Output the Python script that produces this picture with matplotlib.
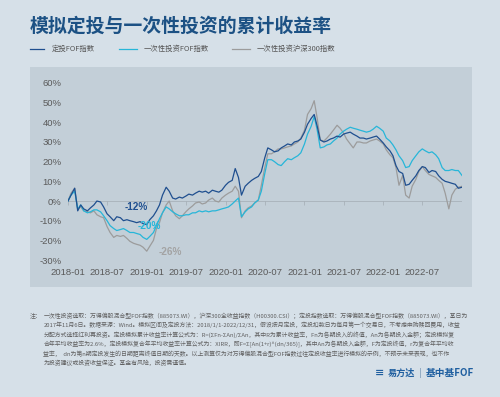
import matplotlib
matplotlib.use('Agg')
import matplotlib.pyplot as plt
import pandas as pd
from matplotlib.patches import Rectangle
from matplotlib.lines import Line2D

plt.rcParams['font.family'] = ['Noto Sans CJK SC', 'DejaVu Sans']

# half-month sample dates, 2018-01-01 .. 2023-01-01
dates = pd.date_range('2018-01-01', periods=121, freq='SMS')

# cumulative return (%)
dingtou_fof = [
    0, 3, 6.5, -5, -2, -4, -5, -3.5, -2, 0, -0.5, -3, -6.5, -8, -10, -8,
    -8.5, -10, -9.5, -10, -10.5, -11, -10.5, -11.5, -12, -9.5, -7.5, -5, -2, 3, 7, 5,
    1.5, 1, 2, 1.5, 2.5, 3.5, 3, 4, 5, 4.5, 5, 4, 5.5, 5, 4.5, 5.5,
    8, 9.5, 10.5, 16.5, 12, 3, 7.5, 9, 10.5, 11.5, 12.5, 15, 22, 27,
    26, 25, 25.5, 27, 28, 29, 28.5, 30, 30.5, 31.5, 35, 39, 42, 44,
    38, 31, 30, 30.5, 31.5, 32, 33, 32.5, 34, 34.5, 35, 34, 33, 32, 32, 31.5,
    32, 32.5, 33, 31.5, 29.5, 27.5, 25.5, 23, 18, 15, 14, 8, 8.5, 10.5, 12.8, 15.5,
    17.5, 17, 14.5, 15.5, 15, 12.8, 11, 10, 9.5, 9, 8.5, 6.5, 7]
lump_fof = [
    0, 3, 5, -4, -2, -5, -6, -5.5, -4.5, -4.5, -5.5, -7.5, -10, -12.5, -14, -15,
    -14.5, -14, -15, -16, -16, -16.5, -17, -18.5, -19.5, -18, -16, -12.5, -9, -6, -3, -4,
    -5.5, -6.5, -7.5, -7.5, -7, -7, -6, -6, -5, -5.5, -5, -5.5, -5, -5, -4.5, -4,
    -3.5, -3, -1.5, 0, 1.5, -8, -5.5, -4, -3, -1, 0.5, 5, 14, 21,
    21, 20, 18.5, 18, 20, 21.5, 21, 22, 23, 24.5, 29, 34, 38, 43,
    36, 27, 27.5, 28.5, 29, 30.5, 32, 34, 35.5, 36.5, 37.5, 37, 36.5, 36, 35.5, 35,
    35.5, 36.5, 38, 37, 35.5, 32, 30.5, 28.5, 26, 23, 20.5, 17, 17.5, 20.5, 23, 25,
    26.5, 25.5, 24.5, 25, 23.5, 21.5, 17, 15.5, 15.5, 16, 15.5, 15.5, 13]
lump_hs300 = [
    0, 4, 6.5, -4, -3, -5, -5.5, -6, -5, -7, -8, -8.5, -13, -16, -18.5, -17.5,
    -18, -17.5, -19, -20.5, -21.5, -22, -22.5, -23.5, -25.5, -23, -20, -14, -11, -6, -2, 0,
    -5, -7.5, -9, -7.5, -5.5, -4, -2.5, -1, -0.5, -1.5, -1, 0.5, 1.5, 0, -0.5, 1.5,
    3, 4, 5, 7.5, 5, -8.5, -5, -3.5, -2.5, -1, 0.5, 8, 17, 24,
    24, 25, 26.5, 26.5, 27, 27.5, 28, 29, 30, 32, 36, 44, 47, 51,
    42, 31, 30.5, 32, 34, 36, 38.5, 37, 34.5, 31.5, 29, 27, 30, 30, 29.5, 29.5,
    30.5, 31, 31.5, 30.5, 29, 26, 23.5, 22, 17, 8, 13, 3, 1.5, 7.5, 11, 15,
    17.5, 15.5, 13.5, 12.8, 12, 10.5, 9, 4, -4, 3, 6, 7, 7.5]

series_names = ['定投FOF指数', '一次性投资FOF指数', '一次性投资沪深300指数']
colors = ['#1f4f8f', '#27b6d8', '#9c9c9c']

xtick_labels = ['2018-01', '2018-07', '2019-01', '2019-07', '2020-01',
                '2020-07', '2021-01', '2021-07', '2022-01', '2022-07']
yticks = [-30, -20, -10, 0, 10, 20, 30, 40, 50, 60]

note_lines = [
    '一次性投资选取：万得偏股混合型FOF指数（885073.WI），沪深300全收益指数（H00300.CSI）；定投指数选取：万得偏股混合型FOF指数（885073.WI），基日为',
    '2017年11月6日。数据来源：Wind。模拟区间及定投方法：2018/1/1-2022/12/31，假设按月定投，定投扣款日为每月第一个交易日，不考虑申购赎回费用，收益',
    '分配方式选择红利再投资。定投模拟累计收益率计算公式为：R=(ΣFn-ΣAn)/ΣAn，其中R为累计收益率，Fn为各期投入的终值，An为各期投入金额；定投模拟复',
    '合年平均收益率为2.6%，定投模拟复合年平均收益率计算公式为：XIRR，即F=Σ[An(1+r)^(dn/365)]，其中An为各期投入金额，F为定投终值，r为复合年平均收',
    '益率，  dn为第n期定投发生的日期距离终值日期的天数。以上测算仅为对万得偏股混合型FOF指数过往定投收益率进行模拟的示例，不预示未来表现，也不作',
    '为投资建议或投资收益保证。基金有风险，投资需谨慎。',
]

fig = plt.figure(figsize=(5, 3.97), dpi=100)
fig.patch.set_facecolor('#d6e0e8')
fig.patches.append(Rectangle((0.06, 0.277), 0.884, 0.554, transform=fig.transFigure,
                             facecolor='#c3cfd8', edgecolor='none', zorder=-5))

# title and legend
fig.text(0.06, 0.933, '模拟定投与一次性投资的累计收益率', fontsize=13.6, fontweight='bold',
         color='#1c5184', va='center', ha='left')
leg_x = [(0.060, 0.088, 0.104), (0.238, 0.274, 0.288), (0.464, 0.500, 0.514)]
for (x0, x1, xt), name, c in zip(leg_x, series_names, colors):
    fig.lines.append(Line2D([x0, x1], [0.877, 0.877], transform=fig.transFigure,
                            color=c, lw=0.9))
    fig.text(xt, 0.877, name, fontsize=5.3, color='#555555', va='center', ha='left')

ax = fig.add_axes([0.136, 0.345, 0.788, 0.446])
ax.set_zorder(2)
ax.set_facecolor('none')
for s in ax.spines.values():
    s.set_visible(False)

ax.axhline(0, color='#a3acb3', lw=0.5, zorder=1)
tick_dates = pd.to_datetime(xtick_labels)
ax.vlines(tick_dates, -1.8, 0, color='#a3acb3', lw=0.5, zorder=1)

# grey first so the blue lines sit on top
ax.plot(dates, lump_hs300, color=colors[2], lw=0.9, zorder=2)
ax.plot(dates, lump_fof, color=colors[1], lw=0.9, zorder=3)
ax.plot(dates, dingtou_fof, color=colors[0], lw=0.9, zorder=4)

ax.text(pd.Timestamp('2018-11-13'), -3.2, '-12%', color=colors[0], fontsize=7.2,
        fontweight='bold', ha='center', va='center', family='Liberation Sans', zorder=5)
ax.text(pd.Timestamp('2019-01-12'), -12.6, '-20%', color=colors[1], fontsize=7.2,
        fontweight='bold', ha='center', va='center', family='Liberation Sans', zorder=5)
ax.text(pd.Timestamp('2019-04-20'), -25.8, '-26%', color='#a3a3a3', fontsize=7.2,
        fontweight='bold', ha='center', va='center', family='Liberation Sans', zorder=5)

ax.set_xlim(dates[0], dates[-1])
ax.set_ylim(-30, 60)
ax.set_yticks(yticks)
ax.set_yticklabels([f'{v}%' for v in yticks])
ax.set_xticks(tick_dates)
ax.set_xticklabels(xtick_labels)
ax.tick_params(axis='both', length=0, labelsize=6.8, labelcolor='#5a5a5a')
ax.tick_params(axis='y', pad=4.5)
ax.tick_params(axis='x', pad=6)
for lbl in ax.get_xticklabels() + ax.get_yticklabels():
    lbl.set_family('Liberation Sans')

# footnote
fig.text(0.06, 1 - 315.7 / 397, '注：', fontsize=4.25, color='#606060', va='center')
for i, line in enumerate(note_lines):
    fig.text(0.0866, 1 - (315.7 + i * 9.5) / 397, line, fontsize=4.25, color='#606060',
             va='center', ha='left')

# brand mark
fig.text(0.750, 1 - 373.3 / 397, '≡', fontsize=8, fontweight='bold', color='#1f5fa0',
         va='center', family='DejaVu Sans')
fig.text(0.776, 1 - 373.3 / 397, '易方达', fontsize=6.6, fontweight='bold', color='#1f5fa0',
         va='center')
fig.text(0.838, 1 - 373.3 / 397, '|', fontsize=6.6, color='#6f8fb0', va='center')
fig.text(0.851, 1 - 373.3 / 397, '基中基FOF', fontsize=7, fontweight='bold', color='#1f5fa0',
         va='center')

fig.savefig('out.png', dpi=100, facecolor=fig.get_facecolor())
